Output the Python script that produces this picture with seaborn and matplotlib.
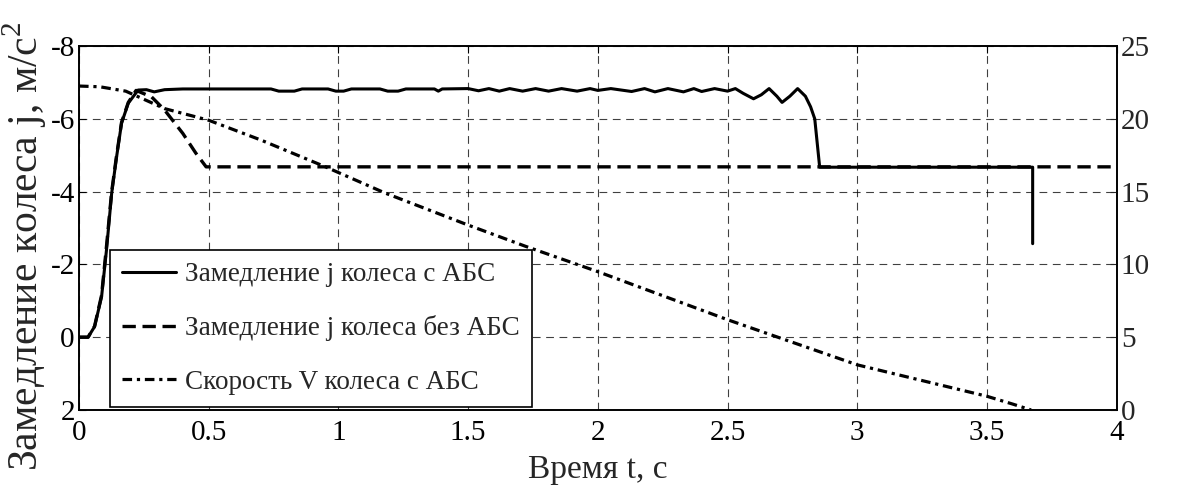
import matplotlib
matplotlib.use("Agg")
import matplotlib.pyplot as plt
import seaborn as sns
import pandas as pd

# ---------------- DATA ----------------
# замедление колеса с АБС (левая ось, м/с^2)
t_abs = [0, 0.035, 0.06, 0.087, 0.106, 0.126, 0.145, 0.164, 0.19, 0.228, 0.26, 0.29,
         0.33, 0.40, 0.50, 0.60, 0.74, 0.77, 0.83, 0.86, 0.96, 0.99, 1.02, 1.05,
         1.16, 1.19, 1.23, 1.26, 1.37, 1.385, 1.40, 1.50, 1.54, 1.58, 1.62, 1.66,
         1.71, 1.76, 1.81, 1.86, 1.92, 1.97, 2.00, 2.05, 2.13, 2.18, 2.22, 2.27,
         2.33, 2.37, 2.40, 2.45, 2.50, 2.53, 2.56, 2.60, 2.63, 2.66, 2.69, 2.71,
         2.74, 2.77, 2.80, 2.82, 2.836, 2.855, 3.676, 3.676]
j_abs = [0, 0, -0.29, -1.11, -2.4, -3.96, -4.96, -5.88, -6.43, -6.79, -6.80, -6.74,
         -6.80, -6.82, -6.82, -6.82, -6.82, -6.76, -6.76, -6.82, -6.82, -6.76, -6.76, -6.82,
         -6.82, -6.76, -6.76, -6.82, -6.82, -6.76, -6.82, -6.83, -6.77, -6.83, -6.76, -6.83,
         -6.76, -6.83, -6.76, -6.83, -6.76, -6.83, -6.78, -6.83, -6.75, -6.83, -6.74, -6.83,
         -6.74, -6.83, -6.75, -6.83, -6.76, -6.83, -6.70, -6.55, -6.66, -6.83, -6.62, -6.45,
         -6.62, -6.83, -6.62, -6.33, -6.0, -4.67, -4.67, -2.57]

# замедление колеса без АБС
t_noabs = [0, 0.035, 0.06, 0.087, 0.106, 0.126, 0.145, 0.164, 0.19, 0.22, 0.28,
           0.33, 0.40, 0.45, 0.49, 4.0]
j_noabs = [0, 0, -0.3, -1.15, -2.5, -4.0, -5.0, -5.9, -6.45, -6.78, -6.6,
           -6.24, -5.6, -5.06, -4.68, -4.68]

# скорость колеса с АБС (правая ось, м/с)
t_v = [0, 0.08, 0.18, 0.23, 0.33, 0.5, 0.7, 0.95, 1.18, 1.5, 1.72, 2.0, 2.5,
       3.0, 3.5, 3.6, 3.67]
v_abs = [22.25, 22.2, 21.9, 21.5, 20.7, 19.9, 18.55, 16.7, 14.9, 12.7, 11.25, 9.5, 6.2,
         3.1, 0.94, 0.4, 0]

labels = ["Замедление j колеса с АБС",
          "Замедление j колеса без АБС",
          "Скорость V колеса с АБС"]

x_ticks = [0, 0.5, 1, 1.5, 2, 2.5, 3, 3.5, 4]
x_ticklabels = ["0", "0.5", "1", "1.5", "2", "2.5", "3", "3.5", "4"]
left_ticks = [-8, -6, -4, -2, 0, 2]
right_ticks = [0, 5, 10, 15, 20, 25]

# ---------------- STYLE ----------------
sns.set_style("white")
plt.rcParams["font.family"] = ["Liberation Serif", "DejaVu Serif"]
plt.rcParams["mathtext.fontset"] = "custom"
plt.rcParams["mathtext.rm"] = "Liberation Serif"
plt.rcParams["axes.unicode_minus"] = False

df_abs = pd.DataFrame({"t": t_abs, "j": j_abs})
df_noabs = pd.DataFrame({"t": t_noabs, "j": j_noabs})
df_v = pd.DataFrame({"t": t_v, "v": v_abs})

fig = plt.figure(figsize=(11.88, 4.92), dpi=100)
ax = fig.add_axes([0.0665, 0.1667, 0.8735, 0.7398])
ax2 = ax.twinx()

sns.lineplot(data=df_abs, x="t", y="j", ax=ax, color="black", lw=2.2,
             estimator=None, sort=False)
sns.lineplot(data=df_noabs, x="t", y="j", ax=ax, color="black", lw=2.4,
             estimator=None, sort=False, linestyle=(0, (4, 2)))
sns.lineplot(data=df_v, x="t", y="v", ax=ax2, color="black", lw=2.3,
             estimator=None, sort=False, linestyle=(0, (3, 1.5, 1, 1.5)))

ax.set_xlim(0, 4)
ax.set_ylim(2, -8)
ax2.set_ylim(0, 25)
ax.set_xticks(x_ticks)
ax.set_xticklabels(x_ticklabels)
ax.set_yticks(left_ticks)
ax2.set_yticks(right_ticks)

ax.grid(True, color="black", lw=0.8, linestyle=(0, (7, 5)), alpha=0.75)
ax.set_axisbelow(True)

for a in (ax, ax2):
    for s in a.spines.values():
        s.set_color("black")
        s.set_linewidth(1.2)
ax.tick_params(axis="both", direction="in", length=5, labelsize=21, pad=3,
               top=True, colors="black")
ax.tick_params(axis="x", pad=7)
ax2.tick_params(axis="y", direction="in", length=5, labelsize=21, pad=3)

ax.set_xlabel("Время t, с", fontsize=24, labelpad=6)
ax.set_ylabel("Замедление колеса j, м/с$^{2}$", fontsize=30)
ax.yaxis.set_label_coords(-0.029, 0.45)
ax2.set_ylabel("")

handles = ax.get_lines()[:2] + ax2.get_lines()[:1]
leg = ax2.legend(handles, labels, loc="lower left", bbox_to_anchor=(0.030, 0.008),
                 fontsize=19.5, frameon=True, fancybox=False, edgecolor="black",
                 framealpha=1, borderpad=0.45, labelspacing=1.05, handlelength=2.0,
                 handletextpad=0.3, borderaxespad=0)
leg.get_frame().set_linewidth(1.2)

fig.savefig("out.png", dpi=100)
